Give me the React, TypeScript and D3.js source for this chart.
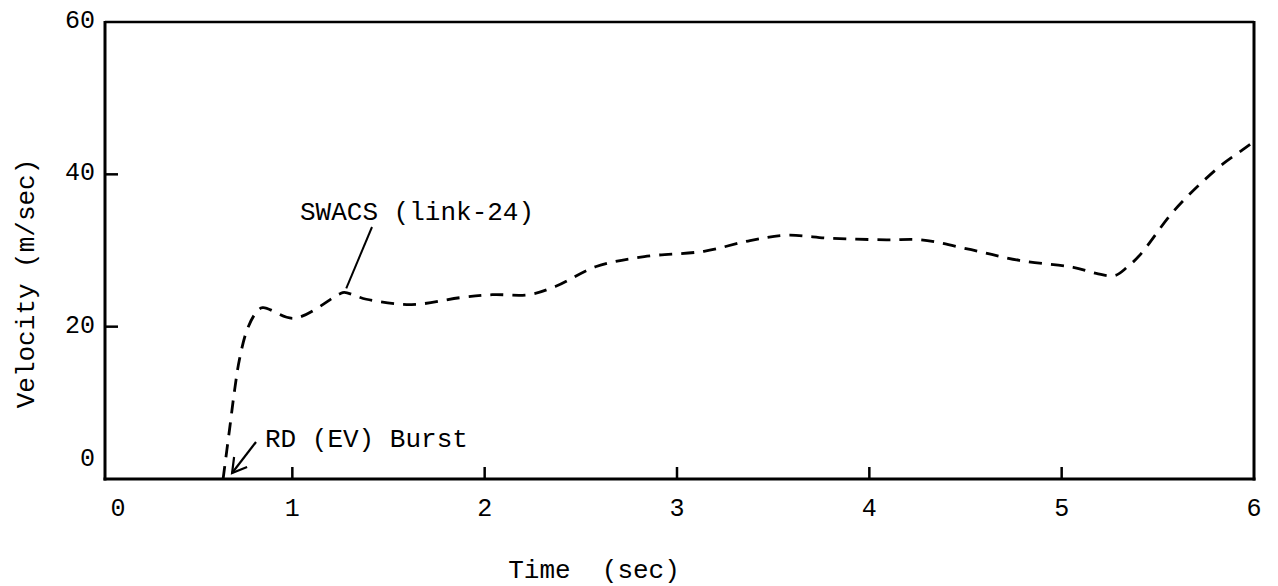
import React from "react";
import * as d3 from "d3";

const timeSec = [0.64, 0.675, 0.70, 0.725, 0.765, 0.81, 0.845, 1.01, 1.245, 1.27, 1.385, 1.62, 1.87, 2.04, 2.23, 2.37, 2.58, 2.83, 3.14, 3.38, 3.57, 3.8, 4.09, 4.27, 4.53, 4.78, 5.06, 5.18, 5.275, 5.34, 5.41, 5.56, 5.65, 5.74, 5.84, 5.94, 6.0];
const velocity = [0, 6.8, 11.7, 15.7, 19.6, 21.8, 22.5, 21.1, 24.3, 24.5, 23.6, 22.9, 23.8, 24.2, 24.2, 25.3, 27.9, 29.2, 29.9, 31.3, 32.0, 31.6, 31.4, 31.4, 30.1, 28.7, 27.8, 27.0, 26.7, 27.8, 29.5, 34.5, 37.0, 39.2, 41.4, 43.2, 44.3];
const xTicks = [0, 1, 2, 3, 4, 5, 6];
const yTicks = [0, 20, 40, 60];
const xLabel = "Time  (sec)";
const yLabel = "Velocity (m/sec)";
const seriesLabel = "SWACS (link-24)";
const burstLabel = "RD (EV) Burst";

const W = 1278;
const H = 586;
const FONT = "'Liberation Mono', 'DejaVu Sans Mono', monospace";

export default function App() {
  const x = d3.scaleLinear().domain([0, 6]).range([100, 1254]);
  const y = d3.scaleLinear().domain([0, 60]).range([479, 22]);
  const pts: [number, number][] = timeSec.map((t, i) => [t, velocity[i]]);
  const line = d3
    .line<[number, number]>()
    .x((d) => x(d[0]))
    .y((d) => y(d[1]))
    .curve(d3.curveCatmullRom.alpha(0.5));

  const left = x(0) + 5;
  const right = x(6);
  const top = y(60);
  const bottom = y(0);

  const peakT = 1.27;
  const peakV = 24.5;
  const burstT = 0.64;

  return (
    <svg width={W} height={H} style={{ display: "block", position: "absolute", left: 0, top: 0, background: "#fff" }}>
      <rect x={0} y={0} width={W} height={H} fill="#fff" />
      {/* frame */}
      <line x1={left} y1={top} x2={right} y2={top} stroke="#000" strokeWidth={2.5} />
      <line x1={left} y1={top - 1} x2={left} y2={bottom + 1.5} stroke="#000" strokeWidth={3} />
      <line x1={right} y1={top - 1} x2={right} y2={bottom + 1.5} stroke="#000" strokeWidth={3} />
      <line x1={left - 1.5} y1={bottom} x2={right + 1.5} y2={bottom} stroke="#000" strokeWidth={3} />

      {/* x ticks */}
      {xTicks.filter((t) => t > 0 && t < 6).map((t) => (
        <line key={"xt" + t} x1={x(t)} x2={x(t)} y1={bottom} y2={bottom - 12} stroke="#000" strokeWidth={2.5} />
      ))}
      {xTicks.map((t) => (
        <text
          key={"xl" + t}
          x={t === 0 ? x(t) + 18 : x(t)}
          y={bottom + 37}
          textAnchor="middle"
          fontFamily={FONT}
          fontSize={25}
          fill="#000"
        >
          {t}
        </text>
      ))}

      {/* y ticks */}
      {yTicks.filter((v) => v > 0 && v < 60).map((v) => (
        <line key={"yt" + v} x1={left} x2={left + 13} y1={y(v)} y2={y(v)} stroke="#000" strokeWidth={2.5} />
      ))}
      {yTicks.map((v) => (
        <text
          key={"yl" + v}
          x={left - 10}
          y={v === 0 ? y(v) - 13 : y(v) + 6}
          textAnchor="end"
          fontFamily={FONT}
          fontSize={25}
          fill="#000"
        >
          {v}
        </text>
      ))}

      {/* axis labels */}
      <text x={594} y={578} textAnchor="middle" fontFamily={FONT} fontSize={26} fill="#000" style={{ whiteSpace: "pre" }} xmlSpace="preserve">
        {xLabel}
      </text>
      <text
        transform={`translate(34, ${(top + bottom) / 2 + 33}) rotate(-90)`}
        textAnchor="middle"
        fontFamily={FONT}
        fontSize={26}
        fill="#000"
      >
        {yLabel}
      </text>

      {/* data line */}
      <path d={line(pts) ?? ""} fill="none" stroke="#000" strokeWidth={2.8} strokeDasharray="13 9" />

      {/* SWACS annotation */}
      <text x={300} y={220} fontFamily={FONT} fontSize={26} fill="#000">
        {seriesLabel}
      </text>
      <line x1={372} y1={227} x2={x(peakT) + 2} y2={y(peakV) - 4} stroke="#000" strokeWidth={2} />

      {/* burst annotation */}
      <text x={265} y={447} fontFamily={FONT} fontSize={26} fill="#000">
        {burstLabel}
      </text>
      <line x1={256} y1={442} x2={x(burstT) + 9} y2={bottom - 6} stroke="#000" strokeWidth={2.2} />
      <polyline
        points={`${x(burstT) + 11},${bottom - 22} ${x(burstT) + 9},${bottom - 6} ${x(burstT) + 24},${bottom - 12}`}
        fill="none"
        stroke="#000"
        strokeWidth={2.2}
      />
    </svg>
  );
}
